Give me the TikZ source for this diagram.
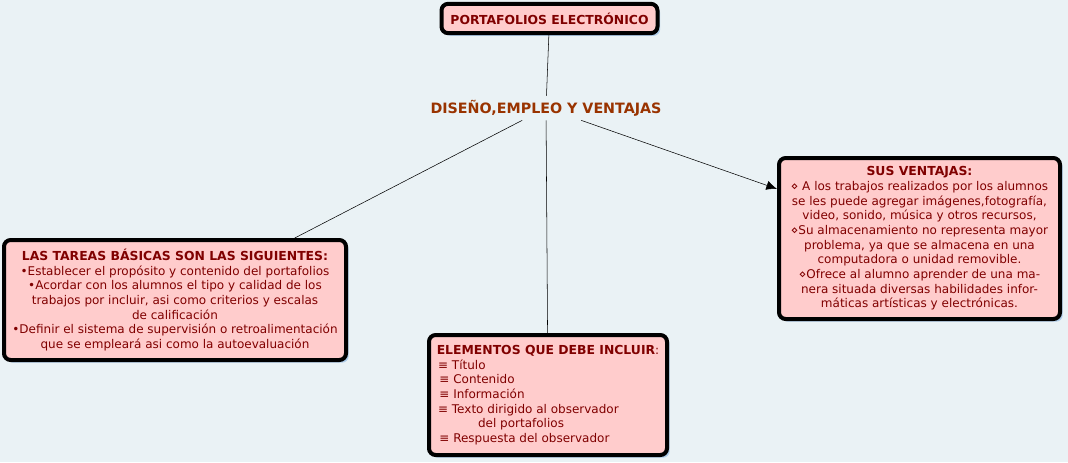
\documentclass[tikz,border=0pt]{standalone}
\usepackage{fontspec}
\setmainfont{DejaVu Sans}
\usetikzlibrary{arrows.meta,shadows}

\definecolor{fondo}{RGB}{234,242,245}
\definecolor{rosa}{RGB}{255,204,204}
\definecolor{granate}{RGB}{128,0,0}
\definecolor{cafe}{RGB}{153,51,0}
\definecolor{sombra}{RGB}{160,195,230}

\newcommand{\titulo}[1]{{\fontsize{9.3}{11}\selectfont\bfseries #1}}

\begin{document}
\begin{tikzpicture}[x=0.75pt,y=-0.75pt]
\fill [fondo] (0,0) rectangle (1068,462);
\useasboundingbox (0,0) rectangle (1068,462);

\node [text=cafe, font=\fontsize{10.7}{12}\bfseries, inner sep=3pt] (diseno) at (546,108) {DISEÑO,EMPLEO Y VENTAJAS};

\begin{scope}[every node/.style={rectangle, rounded corners=5pt, line width=3pt, draw, fill=rosa,
    text=granate, font=\fontsize{9}{11}\selectfont, align=center, inner sep=0pt,
    drop shadow={shadow xshift=2pt, shadow yshift=-2pt, fill=sombra, opacity=0.8}}]
    \node [minimum width=162pt, minimum height=22pt] (portafolio) at (549.5,18.5) {\titulo{PORTAFOLIOS ELECTRÓNICO}};
    \node [minimum width=256.5pt, minimum height=90pt] (tareas) at (175,300) {\titulo{LAS TAREAS BÁSICAS SON LAS SIGUIENTES:}\\
        •Establecer el propósito y contenido del portafolios\\
        •Acordar con los alumnos el tipo y calidad de los\\
        trabajos por incluir, asi como criterios y escalas\\
        de calificación\\
        •Definir el sistema de supervisión o retroalimentación\\
        que se empleará asi como la autoevaluación};
    \node [minimum width=178.5pt, minimum height=90pt, align=left] (elementos) at (548,395) {\titulo{ELEMENTOS QUE DEBE INCLUIR}:\\
        \hspace{1pt}≡ Título\\
        \hspace{2pt}≡ Contenido\\
        \hspace{2pt}≡ Información\\
        \hspace{1pt}≡ Texto dirigido al observador\\
        \hspace{31pt}del portafolios\\
        \hspace{2pt}≡ Respuesta del observador};
    \node [minimum width=210.75pt, minimum height=120.75pt] (ventajas) at (919.5,238.5) {\titulo{SUS VENTAJAS:}\\
        ⋄ A los trabajos realizados por los alumnos\\
        se les puede agregar imágenes,fotografía,\\
        video, sonido, música y otros recursos,\\
        ⋄Su almacenamiento no representa mayor\\
        problema, ya que se almacena en una\\
        computadora o unidad removible.\\
        ⋄Ofrece al alumno aprender de una ma-\\
        nera situada diversas habilidades infor-\\
        máticas artísticas y electrónicas.};
\end{scope}

\path [draw] (portafolio) edge (diseno);
\path [draw] (diseno) edge (tareas);
\path [draw] (diseno) edge (elementos);
\path [draw, -{Latex[length=8pt, width=7pt]}] (diseno) edge (ventajas);

\end{tikzpicture}
\end{document}
